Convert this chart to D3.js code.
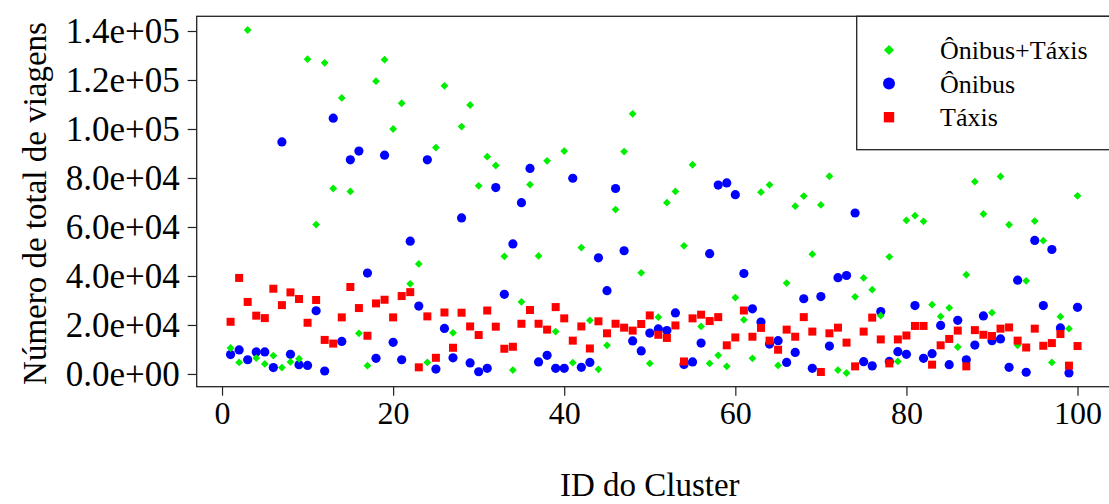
<!DOCTYPE html>
<html>
<head>
<meta charset="utf-8">
<script src="https://cdn.jsdelivr.net/npm/d3@7"></script>
<style>
  body { margin: 0; background: #fff; }
  svg text { font-family: "Liberation Serif", "Times New Roman", serif; fill: #000; }
</style>
</head>
<body>
<div id="chart"></div>
<script>
// cluster ids and trips per cluster (values in units of 10 000 trips)
const clusterIds = d3.range(1, 101);

const onibusTaxis = [
  1.06, 0.47, 14.04, 0.65, 0.41, 0.75, 0.26, 0.49, 0.62, 12.85,
  6.1, 12.7, 7.57, 11.27, 7.45, 1.66, 0.34, 11.95, 12.83, 10.0,
  11.05, 3.68, 4.49, 0.47, 9.24, 11.76, 1.68, 10.1, 10.98, 7.68,
  8.87, 8.51, 4.8, 0.16, 2.94, 7.73, 4.82, 8.7, 1.73, 9.1,
  0.46, 5.16, 2.19, 0.19, 1.17, 6.71, 9.08, 10.62, 4.13, 0.43,
  2.32, 6.99, 7.45, 5.23, 8.54, 1.94, 0.43, 0.76, 0.31, 3.12,
  2.21, 0.64, 7.42, 7.72, 0.35, 3.71, 6.85, 7.26, 4.89, 6.9,
  8.07, 0.16, 0.04, 3.15, 3.92, 3.44, 2.38, 4.78, 0.51, 6.27,
  6.46, 6.23, 2.83, 2.35, 2.7, 1.1, 4.05, 7.85, 6.53, 2.5,
  8.06, 6.09, 1.17, 3.8, 6.24, 5.44, 0.47, 2.34, 1.85, 7.27
];

const onibus = [
  0.79, 0.98, 0.58, 0.9, 0.9, 0.26, 9.47, 0.8, 0.38, 0.35,
  2.58, 0.12, 10.44, 1.33, 8.74, 9.1, 4.12, 0.64, 8.93, 1.29,
  0.58, 5.42, 2.77, 8.74, 0.2, 1.86, 0.66, 6.37, 0.45, 0.09,
  0.23, 7.61, 3.25, 5.31, 6.99, 8.39, 0.49, 0.76, 0.23, 0.23,
  7.99, 0.27, 0.47, 4.74, 3.4, 7.57, 5.03, 1.35, 0.94, 1.67,
  1.84, 1.77, 2.49, 0.39, 0.49, 1.26, 4.91, 7.71, 7.8, 7.32,
  4.1, 2.66, 2.12, 1.22, 1.36, 0.47, 0.88, 3.07, 0.23, 3.16,
  1.14, 3.93, 4.02, 6.57, 0.5, 0.33, 2.55, 0.51, 0.91, 0.8,
  2.79, 0.64, 0.83, 1.98, 0.38, 2.19, 0.58, 1.18, 2.37, 1.36,
  1.43, 0.27, 3.83, 0.07, 5.45, 2.79, 5.08, 1.88, 0.04, 2.72
];

const taxis = [
  2.13, 3.92, 2.94, 2.38, 2.28, 3.48, 2.81, 3.33, 3.06, 2.09,
  3.02, 1.39, 1.24, 2.31, 3.55, 2.69, 1.56, 2.88, 3.03, 2.31,
  3.18, 3.34, 0.27, 2.35, 0.66, 2.51, 1.07, 2.5, 1.94, 1.59,
  2.59, 1.93, 1.03, 1.11, 2.05, 2.61, 2.05, 1.81, 2.73, 2.27,
  1.36, 1.94, 1.04, 2.15, 1.66, 2.05, 1.89, 1.77, 2.04, 2.39,
  1.6, 1.47, 1.98, 0.51, 2.27, 2.42, 2.16, 2.32, 1.17, 1.49,
  2.59, 1.52, 1.88, 1.36, 0.99, 1.81, 1.52, 2.32, 1.73, 0.08,
  1.66, 1.89, 1.28, 0.31, 1.73, 2.3, 1.41, 0.43, 1.41, 1.57,
  1.96, 1.96, 0.38, 1.17, 1.43, 1.77, 0.31, 1.79, 1.6, 1.55,
  1.85, 1.9, 1.36, 1.08, 1.85, 1.15, 1.26, 1.63, 0.34, 1.14
];

const xTicks = [0, 20, 40, 60, 80, 100];
const yTicks = [0, 20000, 40000, 60000, 80000, 100000, 120000, 140000];
const legendLabels = ["Ônibus+Táxis", "Ônibus", "Táxis"];

const width = 1109, height = 504;
// plot region (the right edge runs just past the picture)
const plot = { left: 196.7, top: 16.3, right: 1111.4, bottom: 386.7 };

const svg = d3.select("#chart").append("svg")
  .attr("width", width)
  .attr("height", height);

// R style 4% padding on both axes
const x = d3.scaleLinear().domain([-2.96, 103.96]).range([plot.left, plot.right]);
const y = d3.scaleLinear().domain([-5200, 146000]).range([plot.bottom, plot.top]);

const series = [
  { name: legendLabels[1], values: onibus, color: "#0000ff", shape: "circle" },
  { name: legendLabels[0], values: onibusTaxis, color: "#00ee00", shape: "diamond" },
  { name: legendLabels[2], values: taxis, color: "#ff0000", shape: "square" }
];

function drawMark(g, shape, color, k = 1) {
  if (shape === "circle") {
    g.append("circle").attr("r", 4.6 * k).attr("fill", color);
  } else if (shape === "square") {
    const h = 4 * k;
    g.append("rect").attr("x", -h).attr("y", -h).attr("width", 2 * h).attr("height", 2 * h).attr("fill", color);
  } else {
    const h = 3.9 * k;
    g.append("path").attr("d", `M0,${-h}L${h},0L0,${h}L${-h},0Z`).attr("fill", color);
  }
}

// points
for (const s of series) {
  const pts = svg.append("g").selectAll("g")
    .data(clusterIds.map((id, i) => ({ id, v: s.values[i] * 1e4 })))
    .join("g")
    .attr("transform", d => `translate(${x(d.id)},${y(d.v)})`);
  pts.each(function () { drawMark(d3.select(this), s.shape, s.color); });
}

// box
svg.append("rect")
  .attr("x", plot.left).attr("y", plot.top)
  .attr("width", plot.right - plot.left).attr("height", plot.bottom - plot.top)
  .attr("fill", "none").attr("stroke", "#222").attr("stroke-width", 1.3);

// x axis
const xAxis = d3.axisBottom(x).tickValues(xTicks).tickSize(9).tickPadding(6);
const gx = svg.append("g").attr("transform", `translate(0,${plot.bottom})`).call(xAxis);
gx.select(".domain").remove();
gx.selectAll("line").attr("stroke", "#222").attr("stroke-width", 1.2);
gx.selectAll("text").style("font-size", "32px").style("font-family", "Liberation Serif");

// y axis
const yAxis = d3.axisLeft(y).tickValues(yTicks).tickSize(9).tickPadding(8)
  .tickFormat(d => {
    if (d === 0) return "0.0e+00";
    const e = Math.floor(Math.log10(d));
    return (d / Math.pow(10, e)).toFixed(1) + "e+" + String(e).padStart(2, "0");
  });
const gy = svg.append("g").attr("transform", `translate(${plot.left},0)`).call(yAxis);
gy.select(".domain").remove();
gy.selectAll("line").attr("stroke", "#222").attr("stroke-width", 1.2);
gy.selectAll("text").style("font-size", "35px").style("font-family", "Liberation Serif");

// axis titles
svg.append("text")
  .attr("x", x(50)).attr("y", 496)
  .attr("text-anchor", "middle")
  .style("font-size", "33px")
  .text("ID do Cluster");

svg.append("text")
  .attr("transform", `translate(46,${(plot.top + plot.bottom) / 2 + 2}) rotate(-90)`)
  .attr("text-anchor", "middle")
  .style("font-size", "33px")
  .text("Número de total de viagens");

// legend
const legend = svg.append("g");
legend.append("rect")
  .attr("x", 856.7).attr("y", plot.top)
  .attr("width", plot.right - 856.7).attr("height", 149.7 - plot.top)
  .attr("fill", "#fff").attr("stroke", "#222").attr("stroke-width", 1.3);

const legendRows = [
  { label: legendLabels[0], color: "#00ee00", shape: "diamond" },
  { label: legendLabels[1], color: "#0000ff", shape: "circle" },
  { label: legendLabels[2], color: "#ff0000", shape: "square" }
];
legendRows.forEach((r, i) => {
  const cy = 50 + i * 33.6;
  const g = legend.append("g").attr("transform", `translate(889,${cy})`);
  drawMark(g, r.shape, r.color, 1.3);
  legend.append("text")
    .attr("x", 940).attr("y", cy)
    .attr("dy", "0.35em")
    .style("font-size", "26px")
    .text(r.label);
});
</script>
</body>
</html>
